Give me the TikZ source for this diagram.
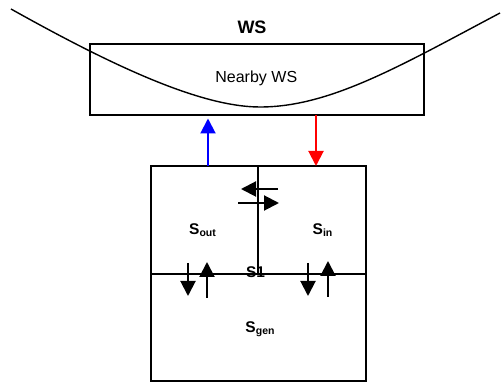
\documentclass[tikz,border=0pt]{standalone}
\usepackage{fontspec}
\setmainfont{Liberation Sans}
\usetikzlibrary{arrows.meta}
\newcommand{\subl}[1]{\raisebox{-2pt}{\fontsize{10.5}{12}\selectfont\bfseries #1}}
\begin{document}
\begin{tikzpicture}[x=1pt,y=-1pt,
  boxstyle/.style={draw=black,line width=2pt,inner sep=0pt,outer sep=0pt,fill=none},
  flow/.style={line width=2pt,-{Triangle[width=15pt,length=15pt]}},
  lbl/.style={anchor=base,inner sep=0pt,font=\fontsize{15.5}{18}\selectfont\bfseries}]
\useasboundingbox (0,0) rectangle (501,382);
% boxes
\node[boxstyle,minimum width=334pt,minimum height=71pt] (nearby) at (257,79.5) {};
\node[boxstyle,minimum width=215pt,minimum height=215pt] (big) at (258.5,273.5) {};
% curve
\draw[line width=1.4pt] (11,9) .. controls (111,65) and (200,107) .. (260,107)
  .. controls (330,107) and (400,66) .. (500,13);
% dividers
\coordinate (divtop) at (258,166);
\coordinate (divbot) at (258,274);
\coordinate (hl) at (151,274);
\coordinate (hr) at (366,274);
\draw[line width=2pt] (divtop) -- (divbot);
\draw[line width=2pt] (hl) -- (hr);
% texts
\node[anchor=base,inner sep=0pt,font=\fontsize{18}{21}\selectfont\bfseries] (ws) at (252,34) {WS};
\node[anchor=base,inner sep=0pt,font=\fontsize{16}{19}\selectfont] (nearbylbl) at (256.3,82.7) {Nearby WS};
\node[lbl] (sout) at (202.5,234.3) {S\subl{out}};
\node[lbl] (sin) at (322.5,234.3) {S\subl{in}};
\node[lbl] (s1) at (255.5,278) {S1};
\node[lbl] (sgen) at (260,332.7) {S\subl{gen}};
% exchange arrows to nearby WS
\coordinate (b1) at (208,166);
\coordinate (n1) at (208,118.5);
\coordinate (n2) at (316,115);
\coordinate (b2) at (316,166);
\draw[flow,draw=blue,fill=blue] (b1) -- (n1);
\draw[flow,draw=red,fill=red] (n2) -- (b2);
% horizontal arrows
\coordinate (la1) at (278,189);
\coordinate (la2) at (241,189);
\coordinate (ra1) at (238,203);
\coordinate (ra2) at (279,203);
\draw[flow] (la1) -- (la2);
\draw[flow] (ra1) -- (ra2);
% vertical arrows
\coordinate (d1a) at (188,263);
\coordinate (d1b) at (188,296);
\coordinate (u1a) at (207,298);
\coordinate (u1b) at (207,262);
\coordinate (d2a) at (308,263);
\coordinate (d2b) at (308,296);
\coordinate (u2a) at (328,297);
\coordinate (u2b) at (328,261);
\draw[flow] (d1a) -- (d1b);
\draw[flow] (u1a) -- (u1b);
\draw[flow] (d2a) -- (d2b);
\draw[flow] (u2a) -- (u2b);
\end{tikzpicture}
\end{document}
